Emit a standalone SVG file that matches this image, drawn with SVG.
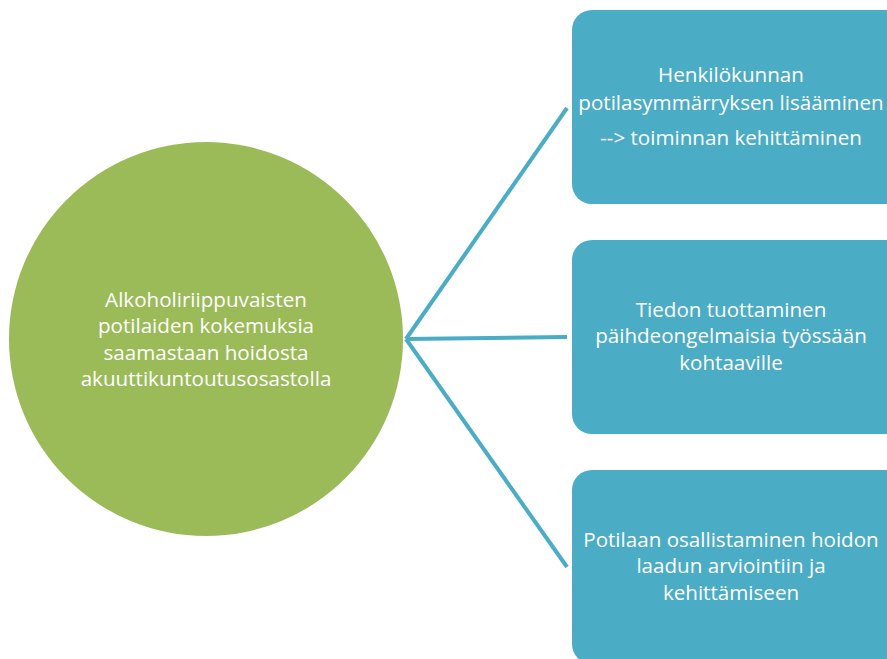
<svg xmlns="http://www.w3.org/2000/svg" width="887" height="659" viewBox="0 0 887 659">
<style>
.t{font-family:"Open Sans","Liberation Sans",sans-serif;font-size:20.6px;fill:#ffffff;text-anchor:middle}
.box{fill:#4BACC6}
.c{stroke:#4BACC6;stroke-width:4;fill:none;stroke-linecap:butt}
</style>
<rect width="887" height="659" fill="#ffffff"/>
<g id="connectors">
<line class="c" x1="406" y1="339" x2="567" y2="108"/>
<line class="c" x1="406" y1="339" x2="567" y2="337"/>
<line class="c" x1="406" y1="339" x2="567" y2="567"/>
</g>
<g id="center">
<circle cx="206" cy="339" r="197" fill="#9BBB59"/>
<text class="t" x="206" y="307">Alkoholiriippuvaisten</text>
<text class="t" x="206" y="333">potilaiden kokemuksia</text>
<text class="t" x="206" y="360">saamastaan hoidosta</text>
<text class="t" x="206" y="386">akuuttikuntoutusosastolla</text>
</g>
<g id="box1">
<rect class="box" x="572" y="10" width="336" height="194" rx="20"/>
<text class="t" x="731" y="82">Henkilökunnan</text>
<text class="t" x="731" y="110">potilasymmärryksen lisääminen</text>
<text class="t" x="731" y="145">--&gt; toiminnan kehittäminen</text>
</g>
<g id="box2">
<rect class="box" x="572" y="240" width="336" height="194" rx="20"/>
<text class="t" x="731" y="317">Tiedon tuottaminen</text>
<text class="t" x="731" y="343">päihdeongelmaisia työssään</text>
<text class="t" x="731" y="370">kohtaaville</text>
</g>
<g id="box3">
<rect class="box" x="572" y="470" width="336" height="194" rx="20"/>
<text class="t" x="731" y="547">Potilaan osallistaminen hoidon</text>
<text class="t" x="731" y="573">laadun arviointiin ja</text>
<text class="t" x="731" y="600">kehittämiseen</text>
</g>
</svg>
